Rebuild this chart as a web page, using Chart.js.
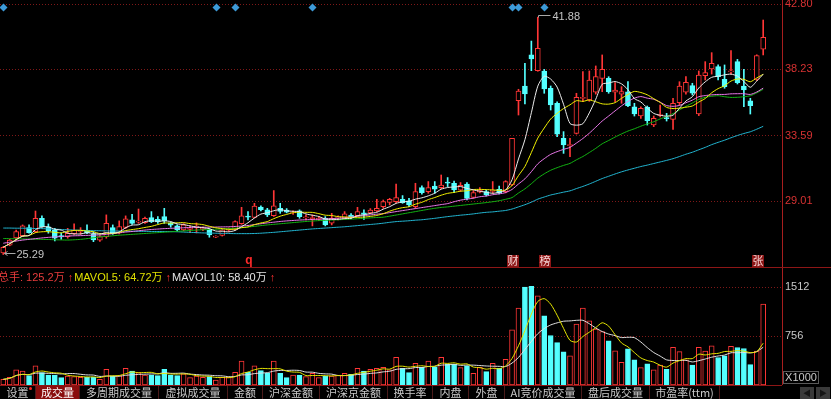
<!DOCTYPE html>
<html>
<head>
<meta charset="utf-8">
<title>成交量</title>
<script src="https://cdn.jsdelivr.net/npm/chart.js@4.4.1/dist/chart.umd.min.js"></script>
<style>
  html, body { margin: 0; padding: 0; background: #000; overflow: hidden; }
  #wrap { position: relative; width: 831px; height: 399px; background: #000;
          font-family: "Liberation Sans", "Noto Sans CJK SC", sans-serif; }
  .box { position: absolute; left: 0; width: 831px; }
  #priceBox { top: 0; height: 267px; }
  #volBox { top: 268px; height: 117px; }
  .rule { position: absolute; height: 1px; background: #8e1616; }
  #volTitle { position: absolute; left: -2px; top: 271px; font-size: 11px; line-height: 13px; white-space: nowrap; }
  #volTitle .up { color: #ff3030; margin: 0 1px 0 3px; font-weight: bold; }
  #unit { position: absolute; left: 783px; top: 371px; width: 34px; height: 11px; border: 1px solid #5a5a5a;
          color: #c8c8c8; font-size: 11px; line-height: 11px; text-align: center; }
  #tabs { position: absolute; left: 0; top: 386px; height: 13px; width: 831px;
          font-family: "Noto Sans CJK SC", sans-serif; font-size: 11px; line-height: 13px; color: #c8c8c8; }
  .tab { position: absolute; top: 0; height: 13px; text-align: center; border-right: 1px solid #4a1a1a; box-sizing: border-box; white-space: nowrap; }
  .tab.on { background: #8a0d0d; color: #fff; }
  .dot { position: absolute; left: 29px; top: 1px; width: 3px; height: 3px; border-radius: 2px; background: #ff2020; }
  .nav { position: absolute; top: 1px; width: 14px; height: 12px; background: #3a3a3a; color: #151515;
         font-size: 8px; line-height: 12px; text-align: center; }
</style>
</head>
<body>
<div id="wrap">
  <div id="priceBox" class="box"><canvas id="priceChart"></canvas></div>
  <div class="rule" style="left:0;top:267px;width:831px;"></div>
  <div id="volBox" class="box"><canvas id="volChart"></canvas></div>
  <div class="rule" style="left:0;top:385px;width:782px;"></div>
  <div id="volTitle"></div>
  <div id="unit">X1000</div>
  <div id="tabs">
    <div class="tab" style="left:0;width:36px;">设置<span class="dot"></span></div>
    <div class="tab on" style="left:36px;width:44px;">成交量</div>
    <div class="tab" style="left:80px;width:79px;">多周期成交量</div>
    <div class="tab" style="left:159px;width:69px;">虚拟成交量</div>
    <div class="tab" style="left:228px;width:35px;">金额</div>
    <div class="tab" style="left:263px;width:57px;">沪深金额</div>
    <div class="tab" style="left:320px;width:68px;">沪深京金额</div>
    <div class="tab" style="left:388px;width:45px;">换手率</div>
    <div class="tab" style="left:433px;width:36px;">内盘</div>
    <div class="tab" style="left:469px;width:36px;">外盘</div>
    <div class="tab" style="left:505px;width:77px;">AI竞价成交量</div>
    <div class="tab" style="left:582px;width:68px;">盘后成交量</div>
    <div class="tab" style="left:650px;width:70px;">市盈率(ttm)</div>
    <div class="nav" style="left:800px;">◀</div>
    <div class="nav" style="left:816px;">▶</div>
  </div>
</div>
<script>
// daily candles
const opens = [25.40, 25.95, 26.45, 26.60, 27.17, 26.89, 27.82, 27.22, 27.01, 26.62,
  26.54, 26.75, 26.90, 26.96, 26.70, 26.30, 26.54, 27.17, 26.82, 27.19,
  27.71, 27.55, 27.52, 27.87, 27.75, 27.94, 27.50, 27.29, 27.01, 27.05,
  27.20, 27.05, 27.00, 26.50, 26.62, 27.00, 27.05, 27.45, 27.96, 27.89,
  28.60, 28.41, 28.01, 28.52, 28.40, 28.20, 28.34, 27.85, 27.80, 27.75,
  27.82, 27.48, 27.85, 27.82, 28.05, 28.01, 28.20, 28.20, 28.34, 28.64,
  28.94, 28.99, 29.15, 29.04, 28.64, 29.97, 29.69, 30.08, 29.97, 30.35,
  30.27, 29.78, 30.22, 29.29, 29.65, 29.69, 29.70, 29.85, 29.69, 30.15,
  36.04, 37.07, 39.24, 38.14, 38.12, 36.91, 35.86, 33.41, 32.90, 33.76,
  36.20, 36.09, 36.63, 37.60, 37.60, 36.63, 36.50, 36.67, 35.62, 34.97,
  35.58, 34.34, 35.00, 34.85, 34.74, 35.90, 36.63, 37.09, 35.11, 37.79,
  38.26, 38.42, 37.53, 38.05, 38.77, 37.07, 36.04, 37.53, 39.65];
const highs = [25.85, 26.35, 27.00, 27.36, 27.36, 28.33, 27.99, 27.43, 27.12, 26.80,
  27.12, 27.43, 27.17, 27.36, 26.89, 26.62, 28.06, 27.36, 27.64, 27.99,
  28.10, 28.47, 27.90, 28.29, 27.94, 28.52, 27.55, 27.36, 27.45, 27.30,
  27.50, 27.20, 27.10, 26.60, 27.05, 27.15, 27.65, 28.59, 28.29, 28.87,
  28.70, 28.52, 29.76, 28.87, 28.50, 28.35, 28.41, 28.06, 28.06, 27.95,
  27.94, 28.17, 28.00, 28.29, 28.15, 28.59, 28.41, 28.50, 29.15, 29.10,
  29.22, 30.22, 29.41, 29.22, 30.27, 30.09, 30.39, 30.39, 30.85, 30.67,
  30.43, 30.32, 30.32, 29.76, 29.97, 29.80, 30.39, 30.08, 30.45, 33.41,
  36.84, 38.65, 40.21, 41.88, 38.23, 37.07, 35.97, 33.88, 33.41, 36.56,
  38.07, 38.12, 38.47, 39.24, 37.72, 37.30, 37.02, 37.37, 35.86, 35.62,
  35.67, 34.97, 35.74, 35.16, 36.21, 37.37, 37.72, 37.26, 38.12, 38.77,
  39.40, 38.54, 38.54, 39.54, 38.93, 38.23, 36.21, 39.25, 41.68];
const lows = [25.29, 25.90, 26.30, 26.55, 26.78, 26.82, 27.20, 26.78, 26.24, 26.35,
  26.43, 26.70, 26.70, 26.75, 26.19, 26.20, 26.43, 26.70, 26.73, 27.10,
  27.40, 27.47, 27.47, 27.52, 27.47, 27.47, 27.20, 26.90, 26.95, 26.82,
  26.80, 26.95, 26.50, 26.47, 26.58, 26.90, 27.00, 27.40, 27.71, 27.85,
  28.33, 27.94, 27.95, 28.17, 28.20, 28.10, 27.82, 27.70, 27.29, 27.65,
  27.29, 27.36, 27.70, 27.75, 27.80, 27.95, 27.75, 28.15, 28.29, 28.52,
  28.76, 28.90, 28.87, 28.64, 28.52, 29.50, 29.57, 29.57, 29.90, 30.04,
  29.62, 29.70, 29.10, 29.22, 29.60, 29.38, 29.57, 29.52, 29.60, 30.10,
  35.04, 35.81, 38.14, 38.10, 36.56, 35.39, 33.53, 32.36, 32.13, 33.71,
  35.97, 36.00, 36.50, 36.67, 36.56, 35.97, 35.86, 35.62, 34.97, 34.81,
  34.34, 34.23, 34.90, 34.62, 34.04, 35.74, 36.50, 36.44, 35.00, 37.49,
  37.90, 37.49, 36.91, 37.90, 37.21, 35.62, 35.11, 37.45, 39.24];
const closes = [25.80, 26.30, 26.89, 27.29, 26.82, 27.82, 27.24, 26.96, 26.43, 26.52,
  26.77, 26.98, 26.95, 26.82, 26.31, 26.55, 27.47, 26.77, 27.24, 27.78,
  27.47, 27.60, 27.82, 27.59, 27.57, 27.64, 27.35, 27.01, 27.36, 27.10,
  27.25, 27.10, 26.66, 26.55, 27.02, 27.05, 27.59, 27.99, 27.90, 28.68,
  28.42, 28.06, 28.69, 28.30, 28.25, 28.25, 27.94, 27.90, 27.85, 27.80,
  27.36, 27.82, 27.90, 28.13, 27.90, 28.29, 28.10, 28.40, 28.52, 28.99,
  29.15, 29.27, 28.92, 28.76, 29.69, 29.62, 29.97, 29.85, 30.15, 30.28,
  29.80, 30.12, 29.22, 29.62, 29.80, 29.46, 29.75, 29.57, 30.39, 33.41,
  36.72, 36.51, 38.96, 39.70, 36.86, 35.74, 33.71, 32.95, 32.98, 36.28,
  36.25, 37.49, 37.72, 38.23, 36.67, 36.79, 36.68, 35.69, 35.11, 35.51,
  34.65, 34.81, 35.05, 34.78, 35.86, 37.07, 37.33, 36.56, 37.84, 38.00,
  38.65, 37.72, 37.02, 38.10, 37.30, 36.79, 35.69, 39.19, 40.47];
// volume in thousands of lots (X1000)
const volumes = [88, 119, 233, 217, 145, 295, 191, 155, 155, 114,
  140, 129, 119, 119, 119, 88, 243, 140, 145, 259,
  217, 191, 155, 155, 145, 243, 155, 145, 171, 114,
  140, 119, 129, 78, 119, 119, 197, 372, 197, 295,
  222, 181, 372, 181, 114, 155, 155, 129, 181, 114,
  140, 140, 155, 181, 166, 259, 217, 243, 259, 274,
  233, 429, 259, 191, 336, 274, 372, 274, 429, 321,
  321, 269, 295, 181, 274, 207, 336, 259, 398, 854,
  1190, 1516, 1526, 1381, 1071, 766, 657, 512, 450, 942,
  1190, 993, 864, 828, 683, 528, 352, 559, 388, 269,
  326, 233, 310, 243, 585, 517, 388, 310, 585, 525,
  605, 425, 450, 599, 580, 565, 315, 524, 1252];
// longer moving averages as drawn (they reach back before the visible window)
const ma20 = [26.08, 26.15, 26.23, 26.30, 26.35, 26.40, 26.45, 26.49, 26.52, 26.55,
  26.58, 26.60, 26.61, 26.63, 26.64, 26.66, 26.70, 26.75, 26.80, 26.86,
  26.90, 26.95, 27.00, 27.04, 27.07, 27.10, 27.12, 27.14, 27.16, 27.18,
  27.19, 27.20, 27.20, 27.21, 27.22, 27.23, 27.25, 27.28, 27.32, 27.38,
  27.44, 27.50, 27.55, 27.60, 27.64, 27.67, 27.70, 27.72, 27.74, 27.76,
  27.78, 27.80, 27.83, 27.87, 27.91, 27.96, 28.01, 28.06, 28.11, 28.15,
  28.22, 28.29, 28.36, 28.43, 28.50, 28.57, 28.64, 28.71, 28.78, 28.85,
  28.98, 29.09, 29.16, 29.23, 29.33, 29.38, 29.47, 29.53, 29.62, 29.84,
  30.22, 30.58, 31.08, 31.63, 31.99, 32.29, 32.48, 32.64, 32.78, 33.08,
  33.40, 33.77, 34.19, 34.62, 34.97, 35.33, 35.68, 35.99, 36.22, 36.33,
  36.22, 36.14, 35.94, 35.70, 35.65, 35.71, 35.90, 36.08, 36.32, 36.40,
  36.45, 36.48, 36.48, 36.52, 36.53, 36.53, 36.48, 36.65, 36.92];
const ma30 = [26.41, 26.40, 26.39, 26.38, 26.37, 26.36, 26.35, 26.34, 26.32, 26.31,
  26.30, 26.32, 26.35, 26.40, 26.46, 26.52, 26.56, 26.60, 26.64, 26.67,
  26.70, 26.73, 26.76, 26.79, 26.82, 26.85, 26.88, 26.91, 26.94, 26.97,
  27.00, 27.02, 27.04, 27.06, 27.08, 27.10, 27.13, 27.17, 27.21, 27.26,
  27.31, 27.36, 27.40, 27.44, 27.48, 27.52, 27.56, 27.60, 27.63, 27.66,
  27.68, 27.70, 27.72, 27.74, 27.76, 27.79, 27.82, 27.85, 27.88, 27.90,
  27.97, 28.05, 28.13, 28.21, 28.29, 28.37, 28.45, 28.52, 28.58, 28.62,
  28.67, 28.72, 28.77, 28.82, 28.87, 28.92, 28.98, 29.05, 29.15, 29.27,
  29.59, 29.88, 30.24, 30.63, 30.93, 31.18, 31.36, 31.52, 31.66, 31.91,
  32.14, 32.42, 32.71, 33.03, 33.26, 33.50, 33.72, 33.92, 34.08, 34.26,
  34.42, 34.57, 34.77, 34.94, 35.14, 35.40, 35.65, 35.88, 36.13, 36.28,
  36.35, 36.39, 36.32, 36.27, 36.28, 36.32, 36.39, 36.59, 36.84];
const ma60 = [27.14, 27.14, 27.13, 27.13, 27.12, 27.11, 27.10, 27.08, 27.06, 27.04,
  27.02, 27.00, 26.98, 26.97, 26.96, 26.95, 26.94, 26.93, 26.93, 26.92,
  26.92, 26.91, 26.91, 26.90, 26.90, 26.90, 26.89, 26.88, 26.86, 26.84,
  26.82, 26.80, 26.79, 26.78, 26.77, 26.76, 26.75, 26.75, 26.75, 26.76,
  26.78, 26.81, 26.84, 26.88, 26.92, 26.96, 27.00, 27.04, 27.08, 27.11,
  27.14, 27.17, 27.20, 27.23, 27.27, 27.31, 27.35, 27.39, 27.43, 27.48,
  27.54, 27.59, 27.62, 27.65, 27.69, 27.72, 27.77, 27.82, 27.88, 27.94,
  27.99, 28.04, 28.08, 28.13, 28.19, 28.24, 28.27, 28.32, 28.37, 28.47,
  28.62, 28.77, 28.95, 29.16, 29.31, 29.45, 29.55, 29.65, 29.74, 29.90,
  30.05, 30.22, 30.41, 30.60, 30.76, 30.92, 31.07, 31.20, 31.32, 31.44,
  31.54, 31.65, 31.76, 31.87, 31.99, 32.14, 32.30, 32.44, 32.61, 32.78,
  32.97, 33.13, 33.28, 33.45, 33.61, 33.75, 33.87, 34.05, 34.25];
const priceTicks = [29.01, 33.59, 38.23, 42.80];
const volTicks = [756, 1512];
const signalDays = [0, 33, 36, 48, 79, 80, 84];
const tagDays = [38, 79, 84, 117];
const tagTexts = ['q', '财', '榜', '张'];

const UP = '#ff3636', DOWN = '#54ffff';
const days = closes.map((_, i) => i);
const isUp = days.map(i => closes[i] >= opens[i]);

function movingAvg(values, n) {
  return values.map((_, i) => {
    const win = values.slice(Math.max(0, i - n + 1), i + 1);
    return win.reduce((a, b) => a + b, 0) / win.length;
  });
}
const pts = arr => arr.map((v, i) => ({ x: i, y: v }));

// x range so that the candles sit at the same pixels as the original (6.44px apart)
const xMin = -0.51, xMax = 120.92;
const priceMin = 24.418, priceMax = 43.08;
const volMax = 1811;

const lineSet = (label, data, color, order) => ({
  type: 'line', label, data: pts(data), borderColor: color, borderWidth: 1,
  pointRadius: 0, tension: 0.25, fill: false, order
});

const markerPlugin = {
  id: 'markers',
  afterDatasetsDraw(chart) {
    const { ctx, chartArea, scales } = chart;
    const xs = scales.x, ys = scales.y;
    ctx.save();
    // blue signal diamonds along the top edge
    ctx.fillStyle = '#3d9ad8';
    signalDays.forEach(d => {
      const cx = Math.round(xs.getPixelForValue(d)) + 0.5, cy = chartArea.top + 7.5;
      ctx.beginPath();
      ctx.moveTo(cx, cy - 4); ctx.lineTo(cx + 4, cy); ctx.lineTo(cx, cy + 4); ctx.lineTo(cx - 4, cy);
      ctx.closePath(); ctx.fill();
    });
    // event tags on the bottom edge
    ctx.textAlign = 'center';
    ctx.textBaseline = 'middle';
    tagDays.forEach((d, k) => {
      const cx = Math.round(xs.getPixelForValue(d)) + 1;
      const cy = chartArea.bottom - 6;
      if (tagTexts[k] === 'q') {
        ctx.font = 'bold 12px "Liberation Sans"';
        ctx.fillStyle = '#ff2a2a';
      } else {
        ctx.fillStyle = '#8c1515';
        ctx.fillRect(cx - 6, chartArea.bottom - 12, 12, 12);
        ctx.font = '11px "Noto Sans CJK SC"';
        ctx.fillStyle = '#f6d6d6';
      }
      ctx.fillText(tagTexts[k], cx, cy);
    });
    // highest and lowest prices
    ctx.strokeStyle = '#a8a8a8';
    ctx.fillStyle = '#c4c4c4';
    ctx.lineWidth = 1;
    ctx.font = '11px "Liberation Sans"';
    ctx.textAlign = 'left';
    const hi = highs.indexOf(Math.max(...highs));
    let px = Math.round(xs.getPixelForValue(hi)) + 0.5;
    let py = Math.round(ys.getPixelForValue(highs[hi])) - 1.5;
    ctx.beginPath();
    ctx.moveTo(px, py + 2); ctx.lineTo(px, py); ctx.lineTo(px + 12, py);
    ctx.stroke();
    ctx.fillText(highs[hi].toFixed(2), px + 14, py + 1);
    const lo = lows.indexOf(Math.min(...lows));
    px = Math.round(xs.getPixelForValue(lo)) + 0.5;
    py = Math.round(ys.getPixelForValue(lows[lo])) - 1.5;
    ctx.beginPath();
    ctx.moveTo(px + 1, py); ctx.lineTo(px + 12, py);
    ctx.moveTo(px + 4, py - 2); ctx.lineTo(px + 1, py); ctx.lineTo(px + 4, py + 2);
    ctx.stroke();
    ctx.fillText(lows[lo].toFixed(2), px + 13, py + 1);
    ctx.restore();
  }
};

const rightAxis = (min, max, ticks, color, fmt) => ({
  position: 'right', min, max,
  afterBuildTicks: s => { s.ticks = ticks.map(v => ({ value: v })); },
  // keep the plot area flush with the canvas: no room reserved for half labels
  afterFit: s => { s.width = 49; s.paddingTop = 0; s.paddingBottom = 0; },
  grid: { color: '#7e1818', lineWidth: 1, drawTicks: false },
  border: { display: true, color: '#a81e1e', width: 1, dash: [1, 2] },
  ticks: { color, padding: 3, font: { size: 11, family: 'Liberation Sans' }, callback: fmt }
});

const baseOptions = (yAxis) => ({
  responsive: true, maintainAspectRatio: false, animation: false, events: [],
  layout: { padding: 0 },
  plugins: { legend: { display: false }, tooltip: { enabled: false } },
  scales: {
    x: { type: 'linear', min: xMin, max: xMax, offset: false, display: false, grid: { offset: false } },
    y: yAxis
  }
});

new Chart(document.getElementById('priceChart'), {
  type: 'bar',
  data: {
    datasets: [
      lineSet('MA5', movingAvg(closes, 5), '#ececec', 0),
      lineSet('MA10', movingAvg(closes, 10), '#f2f200', 0),
      lineSet('MA20', ma20, '#ea78ea', 0),
      lineSet('MA30', ma30, '#12b412', 0),
      lineSet('MA60', ma60, '#22b6d2', 0),
      {
        label: 'body',
        data: days.map(i => {
          const lo = Math.min(opens[i], closes[i]);
          const hi = Math.max(Math.max(opens[i], closes[i]), lo + 0.08);
          return { x: i, y: [lo, hi] };
        }),
        backgroundColor: days.map(i => isUp[i] ? '#000000' : DOWN),
        borderColor: days.map(i => isUp[i] ? UP : DOWN),
        borderWidth: 1, borderSkipped: false, barThickness: 5, grouped: false, order: 1
      },
      {
        label: 'wick',
        data: days.map(i => ({ x: i, y: [lows[i], highs[i]] })),
        backgroundColor: days.map(i => isUp[i] ? UP : DOWN),
        borderWidth: 0, barThickness: 1, grouped: false, order: 2
      }
    ]
  },
  options: baseOptions(rightAxis(priceMin, priceMax, priceTicks, '#d83232', v => v.toFixed(2))),
  plugins: [markerPlugin]
});

const mavol5 = movingAvg(volumes, 5);
const mavol10 = movingAvg(volumes, 10);

new Chart(document.getElementById('volChart'), {
  type: 'bar',
  data: {
    datasets: [
      lineSet('MAVOL5', mavol5, '#e6e600', 0),
      lineSet('MAVOL10', mavol10, '#e2e2e2', 0),
      {
        label: 'volume',
        data: pts(volumes),
        backgroundColor: days.map(i => isUp[i] ? '#000000' : DOWN),
        borderColor: days.map(i => isUp[i] ? UP : DOWN),
        borderWidth: 1, borderSkipped: false, barThickness: 5, grouped: false, order: 1
      }
    ]
  },
  options: baseOptions(rightAxis(0, volMax, volTicks, '#c8c8c8', v => String(v)))
});

// legend line of the volume panel
const last = volumes.length - 1;
const wan = v => (v / 10).toPrecision(4) + '万';
document.getElementById('volTitle').innerHTML =
  '<span style="color:#e83c3c">总手: ' + wan(volumes[last]) + '</span><span class="up">↑</span>' +
  '<span style="color:#e0e000">MAVOL5: ' + wan(mavol5[last]) + '</span><span class="up">↑</span>' +
  '<span style="color:#e4e4e4">MAVOL10: ' + wan(mavol10[last]) + '</span><span class="up">↑</span>';
</script>
</body>
</html>
